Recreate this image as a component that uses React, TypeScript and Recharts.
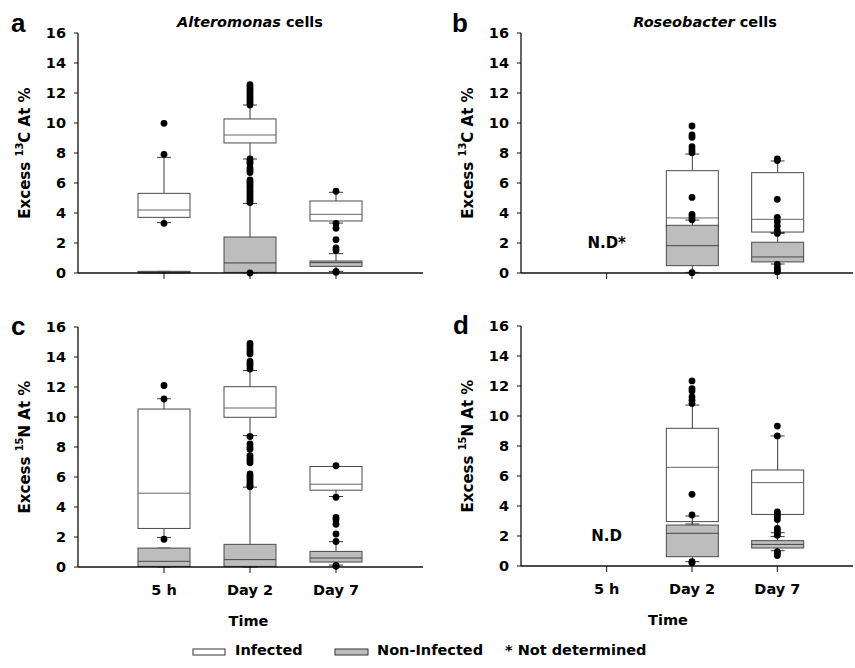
import React from 'react';
import { ComposedChart, Bar, Scatter, XAxis, YAxis, ReferenceDot } from 'recharts';

const FONT = '"DejaVu Sans", Verdana, sans-serif';
const LINE = '#3a3a3a';
const GRAY = '#bdbdbd';

const categories = ['5 h', 'Day 2', 'Day 7'];
const yTicks = [0, 2, 4, 6, 8, 10, 12, 14, 16];

// box stats: [lower whisker, Q1, median, Q3, upper whisker], null = not determined
const carbonAlteroInfected = [
  [3.36, 3.71, 4.2, 5.31, 7.71],
  [7.6, 8.67, 9.2, 10.27, 11.2],
  [3.33, 3.47, 3.91, 4.8, 5.38],
];
const carbonAlteroNonInfected = [
  [0, 0, 0.05, 0.11, 0.11],
  [0, 0.04, 0.67, 2.4, 4.64],
  [0.11, 0.44, 0.69, 0.8, 1.29],
];
const carbonAlteroOutliers = [
  [9.98, 7.91, 3.31],
  [12.55, 12.4, 12.25, 12.1, 11.95, 11.8, 11.65, 11.5, 11.35, 11.2, 7.6, 7.45, 7.3, 7.0, 6.85, 6.7, 6.2, 6.05, 5.9, 5.75, 5.6, 5.45, 5.3, 5.15, 5.0, 4.85, 4.7, 0],
  [5.45, 3.3, 2.98, 2.22, 1.67, 1.5, 0.1, 0.05],
];

const carbonRoseoInfected = [
  null,
  [2.5, 3.0, 3.67, 6.82, 7.93],
  [2.64, 2.73, 3.58, 6.69, 7.47],
];
const carbonRoseoNonInfected = [
  null,
  [0.04, 0.49, 1.82, 3.18, 3.53],
  [0.6, 0.74, 1.07, 2.05, 2.7],
];
const carbonRoseoOutliers = [
  [],
  [9.8, 9.2, 9.05, 8.42, 8.2, 8.02, 5.04, 3.91, 3.75, 3.55, 0.02],
  [7.6, 7.5, 4.91, 3.71, 3.42, 3.13, 2.82, 2.64, 0.58, 0.36, 0.2, 0.09],
];

const nitroAlteroInfected = [
  [1.97, 2.57, 4.92, 10.53, 11.22],
  [8.76, 9.98, 10.6, 12.02, 13.1],
  [4.7, 5.12, 5.52, 6.7, 6.7],
];
const nitroAlteroNonInfected = [
  [0, 0.04, 0.38, 1.26, 1.26],
  [0, 0.04, 0.49, 1.51, 5.32],
  [0.13, 0.33, 0.6, 1.04, 1.69],
];
const nitroAlteroOutliers = [
  [12.1, 11.2, 1.85],
  [14.9, 14.75, 14.55, 14.35, 14.2, 13.7, 13.55, 13.4, 13.2, 8.7, 8.2, 8.0, 7.85, 7.43, 7.25, 7.1, 6.95, 6.2, 6.05, 5.9, 5.75, 5.6, 5.45, 5.35],
  [6.75, 4.65, 3.3, 3.15, 2.85, 2.2, 1.7, 0.1, 0.05],
];

const nitroRoseoInfected = [
  null,
  [2.8, 2.96, 6.58, 9.18, 10.73],
  [2.22, 3.44, 5.56, 6.4, 8.67],
];
const nitroRoseoNonInfected = [
  null,
  [0.29, 0.62, 2.18, 2.73, 3.33],
  [1.02, 1.2, 1.44, 1.69, 1.96],
];
const nitroRoseoOutliers = [
  [],
  [12.34, 11.83, 11.67, 11.27, 11.05, 10.83, 4.78, 3.4, 0.29, 0.22],
  [9.33, 8.67, 3.6, 3.45, 3.3, 3.1, 2.5, 2.35, 2.2, 2.05, 0.95, 0.85, 0.7],
];

type Stats = number[] | null;

const makeRows = (inf: Stats[], non: Stats[], outs: number[][]) =>
  categories.map((cat, i) => ({ cat, inf: inf[i], non: non[i], out: outs[i] }));

const boxShape = (key: 'inf' | 'non', fill: string, medianStroke: string) => (props: any) => {
  const s = props.payload?.[key];
  if (!s) return <g />;
  const [lo, q1, med, q3, hi] = s;
  const top = Math.min(props.y, props.y + props.height);
  const bottom = Math.max(props.y, props.y + props.height);
  const span = hi - lo || 1;
  const py = (v: number) => bottom - ((v - lo) / span) * (bottom - top);
  const cx = props.x + props.width / 2;
  const cap = 7;
  return (
    <g>
      <line x1={cx} x2={cx} y1={py(hi)} y2={py(q3)} stroke={LINE} />
      <line x1={cx} x2={cx} y1={py(q1)} y2={py(lo)} stroke={LINE} />
      <line x1={cx - cap} x2={cx + cap} y1={py(hi)} y2={py(hi)} stroke={LINE} />
      <line x1={cx - cap} x2={cx + cap} y1={py(lo)} y2={py(lo)} stroke={LINE} />
      <rect x={props.x} y={py(q3)} width={props.width} height={Math.max(py(q1) - py(q3), 1)} fill={fill} stroke="#4a4a4a" />
      <line x1={props.x} x2={props.x + props.width} y1={py(med)} y2={py(med)} stroke={medianStroke} />
    </g>
  );
};

const outlierDot = (props: any) => {
  if (props.cy == null || isNaN(props.cy)) return <g />;
  return <circle cx={props.cx} cy={props.cy} r={3.4} fill="#000" />;
};

const AxisTitle = ({ viewBox, iso, el }: any) => {
  const cx = viewBox.x + 7;
  const cy = viewBox.y + viewBox.height / 2;
  return (
    <text x={cx} y={cy} transform={`rotate(-90 ${cx} ${cy})`} textAnchor="middle" dominantBaseline="central"
      fontFamily={FONT} fontWeight="bold" fontSize={15} fill="#000">
      Excess{' '}<tspan dy={-6} fontSize={10}>{iso}</tspan><tspan dy={6}>{el} At %</tspan>
    </text>
  );
};

const tickStyle = { fontFamily: FONT, fontWeight: 'bold', fontSize: 14.5, fill: '#000' };

function Panel({ cfg }: { cfg: any }) {
  const rows = makeRows(cfg.inf, cfg.non, cfg.outs);
  const maxOut = Math.max(...cfg.outs.map((o: number[]) => o.length));
  return (
    <div style={{ position: 'absolute', left: cfg.left, top: cfg.top }}>
      <ComposedChart width={cfg.width} height={cfg.height} data={rows} margin={cfg.margin}>
        <XAxis xAxisId="inf" dataKey="cat" padding={cfg.padding} height={cfg.xHeight}
          axisLine={{ stroke: '#111', strokeWidth: 1.3 }} tickLine={{ stroke: '#111' }}
          tickSize={6} tickMargin={12} tick={tickStyle}
          tickFormatter={cfg.showLabels ? undefined : () => ''}
          label={cfg.showLabels ? { value: 'Time', position: 'bottom', offset: 9, dx: cfg.timeDx, style: tickStyle } : undefined} />
        <XAxis xAxisId="non" dataKey="cat" padding={cfg.padding} hide />
        <YAxis domain={[0, 16]} ticks={yTicks} interval={0} width={60} tickSize={4} tickMargin={8}
          axisLine={{ stroke: '#111', strokeWidth: 1.3 }} tickLine={{ stroke: '#111' }} tick={tickStyle}
          label={{ content: (p: any) => <AxisTitle {...p} iso={cfg.iso} el={cfg.el} /> }} />
        <Bar xAxisId="inf" dataKey={(r: any) => (r.inf ? [r.inf[0], r.inf[4]] : null)} barSize={52}
          shape={boxShape('inf', '#fff', '#666')} isAnimationActive={false} />
        <Bar xAxisId="non" dataKey={(r: any) => (r.non ? [r.non[0], r.non[4]] : null)} barSize={52}
          shape={boxShape('non', GRAY, '#444')} isAnimationActive={false} />
        {Array.from({ length: maxOut }, (_, i) => (
          <Scatter key={i} xAxisId="inf" dataKey={(r: any) => (r.out[i] ?? null)} shape={outlierDot}
            isAnimationActive={false} />
        ))}
        {cfg.nd && (
          <ReferenceDot xAxisId="inf" x="5 h" y={2} r={0} fill="none" stroke="none"
            label={{ value: cfg.nd, position: 'center', style: { ...tickStyle, fontSize: 15 } }} />
        )}
      </ComposedChart>
    </div>
  );
}

const panels = [
  {
    left: 0, top: 0, width: 427, height: 305, margin: { top: 33, right: 4, left: 18, bottom: 2 },
    xHeight: 30, padding: { left: 43, right: 44 }, showLabels: false, iso: '13', el: 'C',
    inf: carbonAlteroInfected, non: carbonAlteroNonInfected, outs: carbonAlteroOutliers,
  },
  {
    left: 428, top: 0, width: 427, height: 305, margin: { top: 33, right: 2, left: 33, bottom: 2 },
    xHeight: 30, padding: { left: 43, right: 33 }, showLabels: false, iso: '13', el: 'C', nd: 'N.D*',
    inf: carbonRoseoInfected, non: carbonRoseoNonInfected, outs: carbonRoseoOutliers,
  },
  {
    left: 0, top: 290, width: 427, height: 345, margin: { top: 37, right: 4, left: 18, bottom: 28 },
    xHeight: 40, padding: { left: 43, right: 44 }, showLabels: true, timeDx: -2, iso: '15', el: 'N',
    inf: nitroAlteroInfected, non: nitroAlteroNonInfected, outs: nitroAlteroOutliers,
  },
  {
    left: 428, top: 290, width: 427, height: 345, margin: { top: 36, right: 2, left: 33, bottom: 29 },
    xHeight: 40, padding: { left: 43, right: 33 }, showLabels: true, timeDx: -19, iso: '15', el: 'N', nd: 'N.D',
    inf: nitroRoseoInfected, non: nitroRoseoNonInfected, outs: nitroRoseoOutliers,
  },
];

export default function App() {
  const txt = { fontFamily: FONT, fontWeight: 'bold' as const, fontSize: 14.5, fill: '#000' };
  const letter = { fontFamily: '"Liberation Sans", Arial, sans-serif', fontWeight: 'bold' as const, fontSize: 26, fill: '#000' };
  return (
    <div style={{ position: 'absolute', left: 0, top: 0, width: 855, height: 668, background: '#fff', overflow: 'hidden' }}>
      {panels.map((p, i) => <Panel key={i} cfg={p} />)}
      <svg width={855} height={668} style={{ position: 'absolute', left: 0, top: 0, pointerEvents: 'none' }}>
        <text x={11} y={32} {...letter}>a</text>
        <text x={452} y={32} {...letter}>b</text>
        <text x={11} y={335} {...letter}>c</text>
        <text x={453} y={334} {...letter}>d</text>
        <text x={250} y={27} textAnchor="middle" {...txt}>
          <tspan fontStyle="italic">Alteromonas</tspan> cells
        </text>
        <text x={705} y={27} textAnchor="middle" {...txt}>
          <tspan fontStyle="italic">Roseobacter</tspan> cells
        </text>
        <rect x={193} y={649} width={32} height={6} fill="#fff" stroke="#333" />
        <text x={235} y={655} {...txt}>Infected</text>
        <rect x={335} y={649} width={33} height={6} fill={GRAY} stroke="#333" />
        <text x={377} y={655} {...txt}>Non-Infected</text>
        <text x={505} y={655} {...txt}>* Not determined</text>
      </svg>
    </div>
  );
}
